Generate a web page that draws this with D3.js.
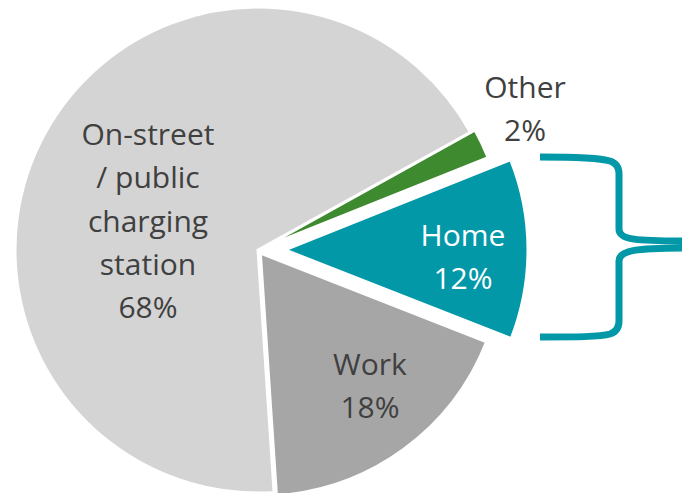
<!DOCTYPE html>
<meta charset="utf-8">
<style>
    body { margin: 0; background: #fff; }
    text { font-family: "Open Sans", sans-serif; font-size: 30px; fill: #404040; }
</style>
<svg width="682" height="493"></svg>
<script src="https://cdn.jsdelivr.net/npm/d3@7"></script>
<script>

    // slice data, clockwise from about 2 o'clock
    var names = ["Other", "Home", "Work", "On-street"];
    var labels = [["Other", "2%"], ["Home", "12%"], ["Work", "18%"], ["On-street", "/ public", "charging", "station", "68%"]];
    var shares = [2, 12, 18, 68];

    var colors = ["#3e8a2f", "#0398a8", "#a6a6a6", "#d4d4d4"],
        explode = [5, 27, 4, 0];

    var svg = d3.select("svg"),
        cx = 258, cy = 250,
        radius = 243,
        start = 61 * Math.PI / 180;

    var pie = d3.pie()
        .sort(null)
        .startAngle(start)
        .endAngle(start + 2 * Math.PI)
        .value(function(d) { return d; });

    var arc = d3.arc().innerRadius(0).outerRadius(radius);

    var arcs = pie(shares);

    var g = svg.append("g").attr("transform", "translate(" + cx + "," + cy + ")");

    g.selectAll("path.slice")
        .data(arcs)
        .enter().append("path")
        .attr("class", "slice")
        .attr("d", arc)
        .attr("fill", function(d, i) { return colors[i]; })
        .attr("stroke", "#fff")
        .attr("stroke-width", 3)
        .attr("stroke-linejoin", "miter")
        .attr("transform", function(d, i) {
            var a = (d.startAngle + d.endAngle) / 2;
            return "translate(" + (Math.sin(a) * explode[i]) + "," + (-Math.cos(a) * explode[i]) + ")";
        });

    // label anchors (centre of text block) relative to pie centre
    var labelPos = {
        "Other": [267, -141],
        "Home": [205, 7],
        "Work": [112, 136],
        "On-street": [-110, -29]
    };
    var lineH = 43.3;

    names.forEach(function(n, i) {
        var lines = labels[i],
            p = labelPos[n],
            y0 = p[1] - (lines.length - 1) * lineH / 2;
        var t = g.append("text")
            .attr("text-anchor", "middle")
            .style("fill", n === "Home" ? "#fff" : "#404040");
        lines.forEach(function(l, j) {
            t.append("tspan")
                .attr("x", p[0])
                .attr("y", y0 + j * lineH)
                .attr("dy", "0.35em")
                .text(l);
        });
    });

    // curly bracket next to the Home slice
    var b = d3.path();
    b.moveTo(540, 157);
    b.bezierCurveTo(575, 157, 600, 158, 610, 161);
    b.quadraticCurveTo(619, 164, 619, 174);
    b.lineTo(619, 229);
    b.bezierCurveTo(619, 240, 635, 241, 692, 241);
    b.moveTo(692, 248);
    b.bezierCurveTo(635, 248, 619, 250, 619, 261);
    b.lineTo(619, 321);
    b.quadraticCurveTo(619, 331, 610, 334);
    b.bezierCurveTo(600, 337, 575, 337, 540, 337);

    svg.append("path")
        .attr("d", b.toString())
        .attr("fill", "none")
        .attr("stroke", "#0398a8")
        .attr("stroke-width", 7);

</script>
